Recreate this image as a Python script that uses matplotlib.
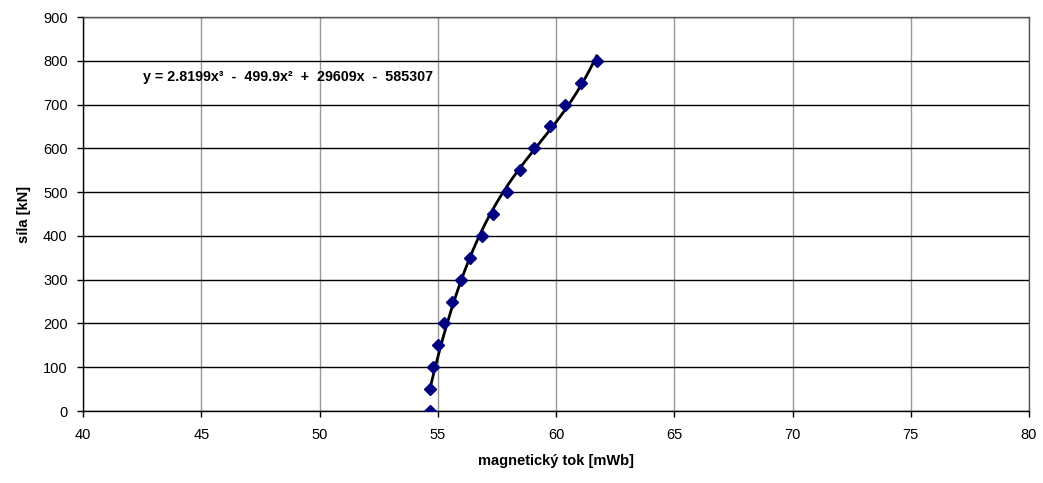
import numpy as np
import matplotlib
matplotlib.use("Agg")
import matplotlib.pyplot as plt

plt.rcParams["font.family"] = ["Liberation Sans", "DejaVu Sans"]

# ---------- data ----------
tok = [54.69, 54.69, 54.81, 55.01, 55.26, 55.59, 55.97, 56.38, 56.85,
       57.35, 57.92, 58.48, 59.07, 59.75, 60.37, 61.07, 61.72]   # mWb
sila = [0, 50, 100, 150, 200, 250, 300, 350, 400,
        450, 500, 550, 600, 650, 700, 750, 800]                  # kN
rovnice = "y = 2.8199x³  -  499.9x²  +  29609x  -  585307"

# ---------- trend (polynom 3. stupně) ----------
c = np.polyfit(tok, sila, 3)
xx = np.linspace(min(tok), max(tok), 200)
yy = np.polyval(c, xx)

fig = plt.figure(figsize=(10.43, 4.83), dpi=100)
ax = fig.add_axes([0.0796, 0.149, 0.907, 0.8158])

ax.plot(xx, yy, color="black", lw=2, zorder=3)
ax.plot(tok, sila, ls="none", marker="D", ms=6, color="#000080", zorder=4)

ax.set_xlim(40, 80); ax.set_ylim(0, 900)
ax.set_xticks(np.arange(40, 81, 5)); ax.set_yticks(np.arange(0, 901, 100))
ax.xaxis.grid(True, color="#999999", lw=1)
ax.yaxis.grid(True, color="black", lw=1)
ax.set_axisbelow(True)
for s in ax.spines.values():
    s.set_color("black"); s.set_linewidth(1)
ax.spines["right"].set_color("#555555")
ax.spines["top"].set_color("#555555")
ax.tick_params(direction="out", length=4, width=1, labelsize=10.5)
ax.tick_params(axis="y", pad=7)
ax.tick_params(axis="x", pad=8)

ax.set_xlabel("magnetický tok [mWb]", fontsize=10.5, fontweight="bold", labelpad=9)
ax.set_ylabel("síla [kN]", fontsize=10.5, fontweight="bold", labelpad=9)
ax.text(42.55, 762, rovnice, fontsize=10.3, fontweight="bold", va="center", ha="left")

fig.savefig("out.png", dpi=100)
